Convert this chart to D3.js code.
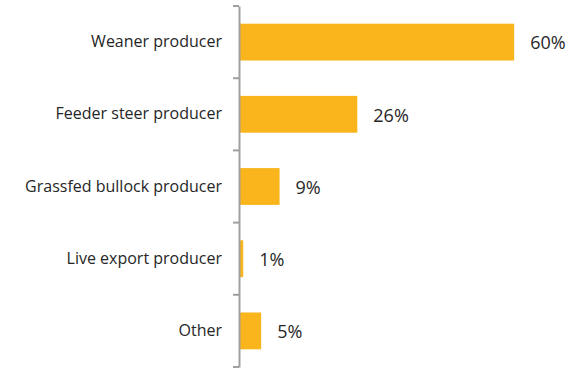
<!DOCTYPE html>
<html><head><meta charset="utf-8">
<script src="https://cdn.jsdelivr.net/npm/d3@7"></script>
<style>body{margin:0;background:#fff}svg{display:block}</style>
</head><body>
<svg id="c" width="580" height="368"></svg>
<script>
const categories = ["Weaner producer","Feeder steer producer","Grassfed bullock producer","Live export producer","Other"];
const values = [59.6, 25.5, 8.6, 0.7, 4.6];
const valueLabels = ["60%","26%","9%","1%","5%"];

const svg = d3.select("#c");
const x0 = 240;
const x = d3.scaleLinear().domain([0, 65]).range([x0, x0 + 65*4.6]);
const y = d3.scaleBand().domain(categories).range([6, 367]).paddingInner(0.49).paddingOuter(0.245);

svg.selectAll("rect.bar").data(categories).join("rect")
  .attr("class","bar")
  .attr("x", x(0))
  .attr("y", d => y(d))
  .attr("width", (d,i) => x(values[i]) - x(0))
  .attr("height", y.bandwidth())
  .attr("fill", "#f9b51b");

svg.selectAll("text.val").data(categories).join("text")
  .attr("class","val")
  .attr("x", (d,i) => x(values[i]) + 16)
  .attr("y", d => y(d) + y.bandwidth()/2 + 1)
  .attr("dy", "0.35em")
  .attr("font-family", "'Open Sans', sans-serif")
  .attr("font-size", 18)
  .attr("fill", "#262626")
  .text((d,i) => valueLabels[i]);

const axis = d3.axisLeft(y).tickSize(0).tickPadding(17);
const g = svg.append("g").attr("transform", `translate(${x0 - 1},0)`).call(axis);
g.select(".domain").attr("stroke", "#a0a0a0").attr("stroke-width", 2);
g.selectAll(".tick text")
  .attr("font-family", "'Open Sans', sans-serif")
  .attr("font-size", 16)
  .attr("fill", "#262626");

const bounds = categories.map(c => y(c) - y.step()*y.paddingInner()/2);
bounds.push(y(categories[categories.length-1]) + y.bandwidth() + y.step()*y.paddingInner()/2);
g.selectAll("line.bt").data(bounds).join("line")
  .attr("class","bt")
  .attr("x1", -6).attr("x2", 0)
  .attr("y1", d => d).attr("y2", d => d)
  .attr("stroke", "#a0a0a0").attr("stroke-width", 2);
</script>
</body></html>
